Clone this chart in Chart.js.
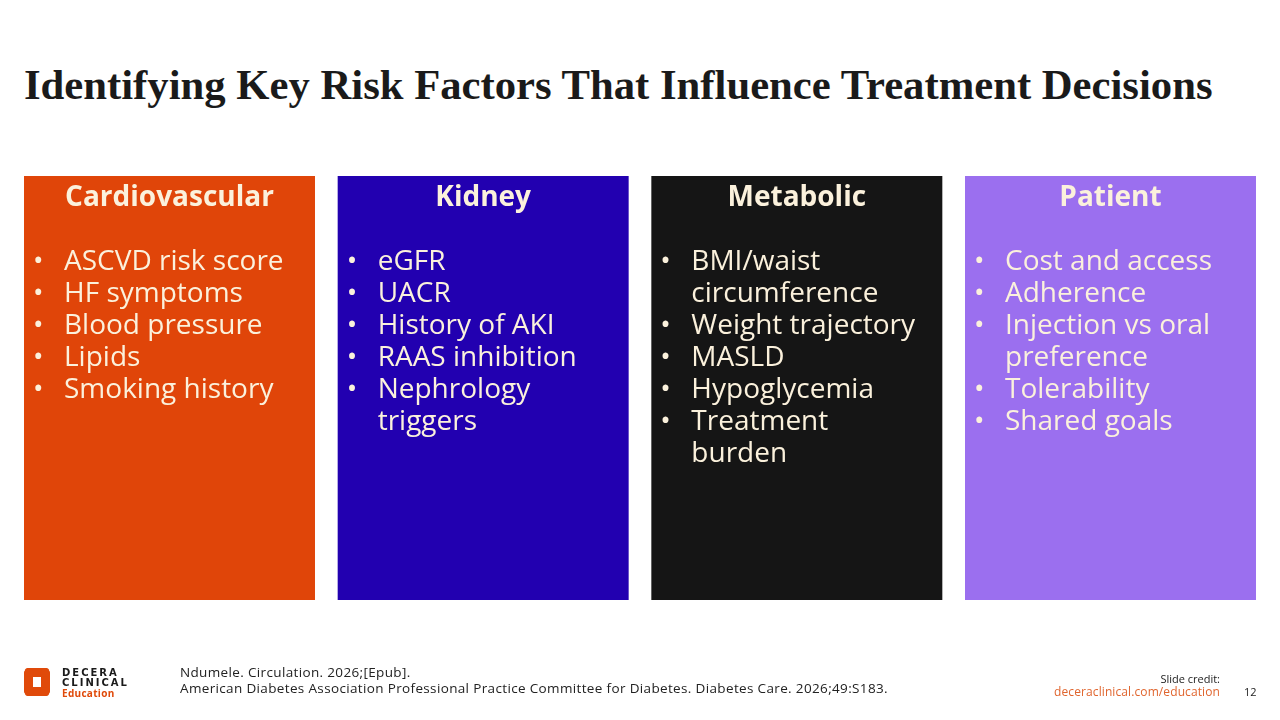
<!DOCTYPE html>
<html>
<head>
<meta charset="utf-8">
<script src="https://cdn.jsdelivr.net/npm/chart.js@4.4.1/dist/chart.umd.min.js"></script>
<style>
  body { margin:0; width:1280px; height:720px; overflow:hidden; background:#fff; position:relative; font-family:"Open Sans", sans-serif; }
  #title { position:absolute; left:24px; top:63px; font:bold 42.7px "Liberation Serif", serif; line-height:43px; color:#1a1a1a; white-space:nowrap; }
  #plot { position:absolute; left:0; top:0; }
  .ft { position:absolute; font-size:13.5px; letter-spacing:0.35px; color:#222; white-space:nowrap; line-height:16px; }
  #logo { position:absolute; left:24px; top:668px; }
  .brand { position:absolute; left:62px; font:bold 10px "DejaVu Sans", sans-serif; letter-spacing:2px; color:#1a1a1a; line-height:10px; }
</style>
</head>
<body>
<div id="title">Identifying Key Risk Factors That Influence Treatment Decisions</div>
<canvas id="plot" width="1280" height="720"></canvas>

<svg id="logo" width="26" height="28" viewBox="0 0 26 28">
  <g fill="#E04A0A">
    <rect x="1" y="0" width="24" height="9" rx="3"/>
    <rect x="1" y="19" width="24" height="9" rx="3"/>
    <rect x="0" y="2" width="9" height="24" rx="3"/>
    <rect x="17" y="2" width="9" height="24" rx="3"/>
    <circle cx="5" cy="4.5" r="4.5"/><circle cx="21" cy="4.5" r="4.5"/>
    <circle cx="5" cy="23.5" r="4.5"/><circle cx="21" cy="23.5" r="4.5"/>
  </g>
</svg>
<div class="brand" style="top:668px">DECERA</div>
<div class="brand" style="top:678px">CLINICAL</div>
<div class="brand" style="top:688px;color:#E04A0A;letter-spacing:0.3px;font-weight:bold;font-family:'Open Sans'">Education</div>

<div class="ft" style="left:180px;top:664px">Ndumele. Circulation. 2026;[Epub].<br>American Diabetes Association Professional Practice Committee for Diabetes. Diabetes Care. 2026;49:S183.</div>
<div class="ft" style="right:60px;top:671px;font-size:11px;letter-spacing:0;text-align:right">Slide credit:</div>
<div class="ft" style="right:60px;top:684px;font-size:12px;letter-spacing:0.1px;color:#E0652E;text-align:right">deceraclinical.com/education</div>
<div class="ft" style="left:1244px;top:684px;font-size:11px;letter-spacing:0">12</div>

<script>
// the four panels
var categories = ['Cardiovascular', 'Kidney', 'Metabolic', 'Patient'];
var boxSpan = [[0, 1], [0, 1], [0, 1], [0, 1]];
var boxColors = ['#E04509', '#2200B0', '#151515', '#9B6FEF'];

// bullet items, "\n" marks where the slide wraps a line
var itemsCardio = ['ASCVD risk score', 'HF symptoms', 'Blood pressure', 'Lipids', 'Smoking history'];
var itemsKidney = ['eGFR', 'UACR', 'History of AKI', 'RAAS inhibition', 'Nephrology\ntriggers'];
var itemsMetabolic = ['BMI/waist\ncircumference', 'Weight trajectory', 'MASLD', 'Hypoglycemia', 'Treatment\nburden'];
var itemsPatient = ['Cost and access', 'Adherence', 'Injection vs oral\npreference', 'Tolerability', 'Shared goals'];
var allItems = [itemsCardio, itemsKidney, itemsMetabolic, itemsPatient];

var textColor = '#FBF1DC';

var panelText = {
  id: 'panelText',
  afterDatasetsDraw: function(chart) {
    var ctx = chart.ctx;
    var meta = chart.getDatasetMeta(0);
    ctx.save();
    ctx.fillStyle = textColor;
    ctx.textBaseline = 'alphabetic';
    for (var i = 0; i < meta.data.length; i++) {
      var p = meta.data[i].getProps(['x', 'y', 'base', 'width'], true);
      var left = p.x - p.width / 2;
      var top = Math.min(p.y, p.base);

      ctx.font = 'bold 28px "Open Sans"';
      ctx.textAlign = 'center';
      ctx.fillText(categories[i], p.x, top + 30);

      ctx.textAlign = 'left';
      var yy = top + 94;
      var items = allItems[i];
      for (var k = 0; k < items.length; k++) {
        var lines = items[k].split('\n');
        ctx.font = '28px "Open Sans"';
        ctx.fillText('\u2022', left + 9, yy);
        for (var j = 0; j < lines.length; j++) {
          ctx.fillText(lines[j], left + 40, yy);
          yy += 32;
        }
      }
    }
    ctx.restore();
  }
};

new Chart(document.getElementById('plot'), {
  type: 'bar',
  data: {
    labels: categories,
    datasets: [{
      data: boxSpan,
      backgroundColor: boxColors,
      borderWidth: 0,
      barPercentage: 0.9277,
      categoryPercentage: 1
    }]
  },
  options: {
    responsive: false,
    animation: false,
    layout: { padding: { left: 12.67, right: 12.67, top: 176, bottom: 120 } },
    plugins: { legend: { display: false }, tooltip: { enabled: false } },
    scales: {
      x: { display: false },
      y: { display: false, min: 0, max: 1 }
    }
  },
  plugins: [panelText]
});
</script>
</body>
</html>
